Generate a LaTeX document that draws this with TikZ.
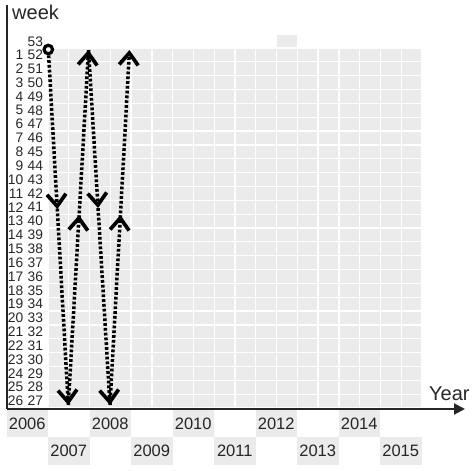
\documentclass[tikz,border=0pt]{standalone}
\usepackage{fontspec}
\setmainfont{Liberation Sans}
\usetikzlibrary{arrows.meta,decorations.markings}
\begin{document}
\begin{tikzpicture}[x=1pt,y=-1pt,
  gridline/.style={white,line width=1.3pt},
  weeklbl/.style={inner sep=0pt,font=\fontsize{13.8}{13.8}\selectfont,text=black!85},
  yearbox/.style={fill=black!8,minimum width=41.5pt,minimum height=27.5pt,inner sep=0pt,font=\fontsize{16.5}{16.5}\selectfont,text=black!85},
  axislbl/.style={inner sep=0pt,font=\fontsize{20}{20}\selectfont,text=black!85},
  axisline/.style={line width=2pt,black!85},
  mybarb/.tip={Straight Barb[length=12pt,width=19pt,line width=3.7pt]},
  dotline/.style={line width=3.5pt,dash pattern=on 2.8pt off 2pt,black,-mybarb},
  midarrow/.style={postaction={decorate},decoration={markings,mark=at position #1 with {\arrow{mybarb}}}},
]
\useasboundingbox (0,0) rectangle (474,471);
% grid
\fill[black!8] (48,48) rectangle (422,408);
\fill[black!8] (276.6,34.2) rectangle (297.3,48);
\foreach \k in {0,...,18} \draw[gridline] ({48+20.778*\k},48) -- ({48+20.778*\k},408);
\foreach \k in {0,...,26} \draw[gridline] (48,{48+13.846*\k}) -- (422,{48+13.846*\k});
\draw[gridline] (276.6,48) -- (276.6,34.2) -- (297.3,34.2) -- (297.3,48);
% week labels
\foreach \i in {1,...,26} {
  \pgfmathtruncatemacro{\j}{53-\i}
  \node[weeklbl,anchor=east] (wl\i) at (23.5,{48+13.846*(\i-0.5)}) {\i};
  \node[weeklbl,anchor=west] (wr\i) at (27.5,{48+13.846*(\i-0.5)}) {\j};
}
\node[weeklbl,anchor=west] (wr0) at (27.5,41.5) {53};
% year boxes
\foreach \k in {0,...,9} {
  \pgfmathtruncatemacro{\yr}{2006+\k}
  \pgfmathsetmacro{\yc}{mod(\k,2)==0 ? 423.5 : 451}
  \node[yearbox] (yr\yr) at ({27.25+41.5*\k},\yc) {\yr};
}
% axes
\coordinate (ytop) at (6.8,5);
\coordinate (orig) at (6.8,409);
\coordinate (xend) at (465,409);
\draw[axisline] (ytop) -- (orig);
\draw[axisline,-{Triangle[length=11pt,width=11pt]}] (orig) -- (xend);
\node[axislbl,anchor=base west] (wk) at (12,19.5) {week};
\node[axislbl,anchor=base west] (yl) at (429,400) {Year};
% path
\node[circle,draw,line width=3.2pt,fill=white,minimum size=8.5pt,inner sep=0pt] (start) at (48.3,49.5) {};
\coordinate (b1) at (68.3,405);
\coordinate (t1) at (88.5,50);
\coordinate (b2) at (110,405);
\coordinate (t2) at (129.5,50);
\draw[dotline,midarrow=0.44] (start) -- (b1);
\draw[dotline,midarrow=0.535] (b1) -- (t1);
\draw[dotline,midarrow=0.445] (t1) -- (b2);
\draw[dotline,midarrow=0.535] (b2) -- (t2);
\end{tikzpicture}
\end{document}
